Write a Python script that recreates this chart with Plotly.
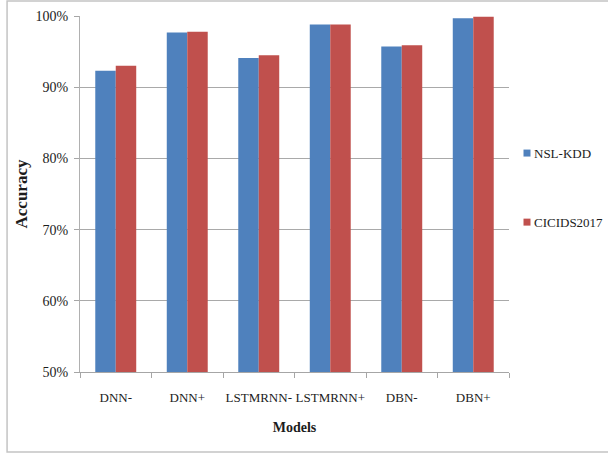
import plotly.graph_objects as go

# Detection accuracy (%) per model on the two benchmark datasets
models = ["DNN-", "DNN+", "LSTMRNN-", "LSTMRNN+", "DBN-", "DBN+"]
nsl_kdd = [92.3, 97.7, 94.1, 98.8, 95.7, 99.7]
cicids2017 = [93.0, 97.8, 94.5, 98.8, 95.9, 99.9]
series_names = ["NSL-KDD", "CICIDS2017"]
series_colors = ["#4f81bd", "#c0504d"]
y_ticks = [50, 60, 70, 80, 90, 100]
y_tick_text = ["50%", "60%", "70%", "80%", "90%", "100%"]

SERIF = "Liberation Serif"
TEXT = "#1c1c1c"

fig = go.Figure()
for name, vals, color in zip(series_names, [nsl_kdd, cicids2017], series_colors):
    fig.add_trace(go.Bar(
        x=models, y=vals, name=name,
        marker=dict(color=color, line=dict(width=0)),
        showlegend=False,
    ))

# Outer chart frame
fig.add_shape(type="rect", xref="paper", yref="paper",
              x0=-0.170, x1=1.236, y0=-0.2247, y1=1.042,
              line=dict(color="#c4c4c4", width=1.5), fillcolor="rgba(0,0,0,0)",
              layer="below")

# Legend: coloured squares with series labels on the right
legend_y = [0.615, 0.421]
for name, color, ly in zip(series_names, series_colors, legend_y):
    fig.add_shape(type="rect", xref="paper", yref="paper",
                  x0=1.0338, x1=1.0501, y0=ly - 0.0098, y1=ly + 0.0098,
                  fillcolor=color, line=dict(width=0))
    fig.add_annotation(x=1.054, y=ly, xref="paper", yref="paper",
                       text=name, showarrow=False, xanchor="left", yanchor="middle",
                       font=dict(family=SERIF, size=13, color=TEXT))

fig.update_layout(
    width=608, height=457,
    margin=dict(l=80, r=99, t=16, b=85),
    paper_bgcolor="white", plot_bgcolor="white",
    bargap=0.427, bargroupgap=0,
    font=dict(family=SERIF, size=14, color=TEXT),
    xaxis=dict(
        title=dict(text="<b>Models</b>", font=dict(family=SERIF, size=14), standoff=18),
        tickfont=dict(family=SERIF, size=13),
        tickangle=0, automargin=False,
        showline=True, linecolor="#a6a6a6", linewidth=1,
        ticks="outside", tickson="boundaries", ticklen=5, tickcolor="#a6a6a6",
        ticklabelstandoff=13,
        showgrid=False,
    ),
    yaxis=dict(
        title=dict(text="<b>Accuracy</b>", font=dict(family=SERIF, size=17), standoff=3),
        tickfont=dict(family=SERIF, size=14),
        automargin=False, ticklabelstandoff=3,
        range=[50, 100], tickvals=y_ticks, ticktext=y_tick_text,
        showline=True, linecolor="#b0b0b0", linewidth=1,
        ticks="outside", ticklen=5, tickcolor="#a6a6a6",
        showgrid=True, gridcolor="#a9a9a9", gridwidth=1,
        zeroline=False,
    ),
)

fig.write_html("out.html")
